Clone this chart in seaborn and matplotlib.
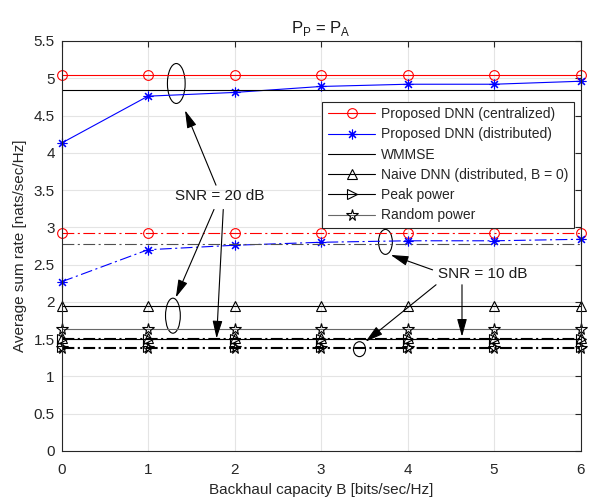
import numpy as np
import pandas as pd
import matplotlib
matplotlib.use("Agg")
import matplotlib.pyplot as plt
from matplotlib.patches import Ellipse
import seaborn as sns

# ---------------- data ----------------
B = [0, 1, 2, 3, 4, 5, 6]
xticks = [0, 1, 2, 3, 4, 5, 6]
yticks = [0, 0.5, 1, 1.5, 2, 2.5, 3, 3.5, 4, 4.5, 5, 5.5]

# SNR = 20 dB (solid)
cent20 = [5.05, 5.05, 5.05, 5.05, 5.05, 5.05, 5.05]
dist20 = [4.13, 4.76, 4.81, 4.89, 4.92, 4.92, 4.96]
wmmse20 = [4.84, 4.84, 4.84, 4.84, 4.84, 4.84, 4.84]
naive20 = [1.95, 1.95, 1.95, 1.95, 1.95, 1.95, 1.95]
peak20 = [1.50, 1.50, 1.50, 1.50, 1.50, 1.50, 1.50]
random20 = [1.63, 1.63, 1.63, 1.63, 1.63, 1.63, 1.63]

# SNR = 10 dB (dash-dot)
cent10 = [2.93, 2.93, 2.93, 2.93, 2.93, 2.93, 2.93]
dist10 = [2.27, 2.70, 2.76, 2.80, 2.82, 2.82, 2.84]
wmmse10 = [2.78, 2.78, 2.78, 2.78, 2.78, 2.78, 2.78]
naive10 = [1.52, 1.52, 1.52, 1.52, 1.52, 1.52, 1.52]
peak10 = [1.39, 1.39, 1.39, 1.39, 1.39, 1.39, 1.39]
random10 = [1.38, 1.38, 1.38, 1.38, 1.38, 1.38, 1.38]

labels = ["Proposed DNN (centralized)", "Proposed DNN (distributed)", "WMMSE",
          "Naive DNN (distributed, B = 0)", "Peak power", "Random power"]

# ---------------- style ----------------
sns.set_style("white")
plt.rcParams['font.family'] = ['Liberation Sans', 'DejaVu Sans']
plt.rcParams['mathtext.fontset'] = 'custom'
plt.rcParams['mathtext.rm'] = 'Liberation Sans'
plt.rcParams['lines.scale_dashes'] = False

fig = plt.figure(figsize=(5.90, 5.01), dpi=100)
ax = fig.add_axes([61.5 / 590, 1 - 451 / 501, (580.5 - 61.5) / 590, (451 - 41) / 501])

DD = (0, (8.5, 2.5, 1.5, 2.5))
ASTER = (8, 2, 0)

series = [
    (cent20, 'red', 'o', '-', 7, labels[0]),
    (dist20, 'blue', ASTER, '-', 7, labels[1]),
    (wmmse20, 'black', None, '-', 7, labels[2]),
    (naive20, 'black', '^', '-', 7, labels[3]),
    (peak20, 'black', '>', '-', 7, labels[4]),
    (random20, '#686868', '*', '-', 8.5, labels[5]),
    (cent10, 'red', 'o', DD, 7, None),
    (dist10, 'blue', ASTER, DD, 7, None),
    (wmmse10, '#505050', None, DD, 7, None),
    (naive10, 'black', '^', DD, 7, None),
    (peak10, 'black', '>', DD, 7, None),
    (random10, 'black', '*', DD, 8.5, None),
]

for vals, col, mk, ls, ms, lab in series:
    df = pd.DataFrame({"B": B, "rate": vals})
    kw = dict(color=col, linestyle=ls, linewidth=0.8, ax=ax)
    if mk is not None:
        mec = 'black' if col == '#686868' else col
        kw.update(marker=mk, markersize=ms, markerfacecolor='none',
                  markeredgecolor=mec, markeredgewidth=0.8)
    if lab is None:
        kw['label'] = '_nolegend_'
        kw['legend'] = False
    else:
        kw['label'] = lab
    sns.lineplot(data=df, x="B", y="rate", **kw)

for ln in ax.get_lines():
    ln.set_clip_on(False)

ax.set_xlim(0, 6)
ax.set_ylim(0, 5.5)
ax.set_xticks(xticks)
ax.set_yticks(yticks)
ax.set_xticklabels([str(v) for v in xticks])
ax.set_yticklabels([('%g' % v) for v in yticks])
ax.grid(True, color='#e4e4e4', linewidth=0.8)
ax.set_axisbelow(True)
for s in ax.spines.values():
    s.set_color('#262626')
    s.set_linewidth(0.8)
    s.set_visible(True)
ax.tick_params(direction='in', top=True, right=True, length=4, width=0.8,
               colors='#262626', labelsize=11)
ax.tick_params(axis='x', pad=8.5)
ax.tick_params(axis='y', pad=4.8)

ax.set_xlabel("Backhaul capacity B [bits/sec/Hz]", fontsize=11, color='#262626', labelpad=4.5)
ax.set_ylabel("Average sum rate [nats/sec/Hz]", fontsize=11, color='#262626', labelpad=4.5)
ax.set_title(r"P$_\mathregular{P}$ = P$_\mathregular{A}$", fontsize=12, color='#1a1a1a', pad=5.5)

handles, labs = ax.get_legend_handles_labels()
leg = ax.legend(handles, labs, loc='upper right', bbox_to_anchor=(0.987, 0.852),
                fontsize=10, frameon=True, fancybox=False, framealpha=1,
                edgecolor='#262626', handlelength=3.4, labelspacing=0.45,
                borderpad=0.4, handletextpad=0.4, borderaxespad=0)
leg.get_frame().set_linewidth(0.8)

# ---------------- annotations ----------------
ek = dict(fill=False, edgecolor='black', linewidth=0.8)
ax.add_patch(Ellipse((1.327, 4.93), 0.205, 0.536, **ek))
ax.add_patch(Ellipse((1.288, 1.815), 0.171, 0.47, **ek))
ax.add_patch(Ellipse((3.745, 2.805), 0.16, 0.335, **ek))
ax.add_patch(Ellipse((3.445, 1.366), 0.14, 0.2, **ek))

ap = dict(arrowstyle='-|>,head_length=0.9,head_width=0.25', color='black',
          lw=0.8, mutation_scale=12, shrinkA=0, shrinkB=0)
ax.text(1.83, 3.42, "SNR = 20 dB", fontsize=11, ha='center', va='center', color='#1a1a1a')
ax.annotate("", xy=(1.428, 4.57), xytext=(1.786, 3.566), arrowprops=ap)
ax.annotate("", xy=(1.322, 2.06), xytext=(1.763, 3.24), arrowprops=ap)
ax.annotate("", xy=(1.793, 1.51), xytext=(1.87, 3.24), arrowprops=ap)

ax.text(4.87, 2.38, "SNR = 10 dB", fontsize=11, ha='center', va='center', color='#1a1a1a')
ax.annotate("", xy=(3.806, 2.63), xytext=(4.29, 2.43), arrowprops=ap)
ax.annotate("", xy=(3.515, 1.467), xytext=(4.33, 2.23), arrowprops=ap)
ax.annotate("", xy=(4.63, 1.534), xytext=(4.63, 2.23), arrowprops=ap)

fig.savefig("out.png", dpi=100)
